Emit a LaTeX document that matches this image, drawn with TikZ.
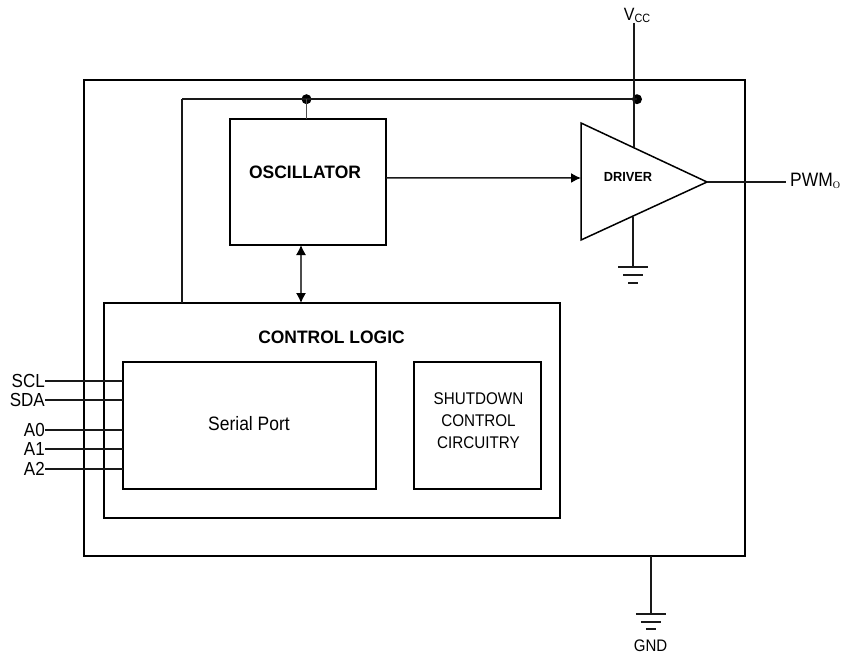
\documentclass[tikz,border=0pt]{standalone}
\usepackage{fontspec}
\setmainfont[FakeStretch=0.9,BoldFeatures={FakeStretch=0.97}]{Liberation Sans}
\usetikzlibrary{arrows.meta,calc}
\tikzset{
  x=1pt,y=-1pt,
  wire/.style={line width=1.5pt,black!90},
  thin wire/.style={line width=1.2pt,black!70},
  blockbox/.style={draw,line width=1.5pt,inner sep=0pt,outer sep=0pt,align=center},
  junction/.style={circle,fill=black,inner sep=0pt,minimum size=10pt},
  arrowed/.style={-{Latex[length=10pt,width=10pt,black]}},
  both arrowed/.style={{Latex[length=10pt,width=10pt,black]}-{Latex[length=10pt,width=10pt,black]}},
  lbl/.style={inner sep=0pt,font=\fontsize{19.4}{20}\selectfont},
  pin/.style={inner sep=0pt,font=\fontsize{18.9}{19}\selectfont,anchor=east},
  bold/.style={inner sep=0pt,font=\fontsize{18}{20}\selectfont\bfseries},
}
\begin{document}
\begin{tikzpicture}
\useasboundingbox (0,0) rectangle (845,655);
% blocks
\node[blockbox,minimum width=661pt,minimum height=476pt] (chip) at (414.5,318) {};
\node[blockbox,minimum width=456pt,minimum height=215pt] (logic) at (332,410.5) {};
\node[blockbox,minimum width=156pt,minimum height=126pt] (osc) at (308,182) {};
\node[blockbox,minimum width=253pt,minimum height=127pt] (serial) at (249.5,425.5) {};
\node[blockbox,minimum width=127pt,minimum height=127pt] (shut) at (477.5,425.5) {};
% driver
\coordinate (triA) at (581,123);
\coordinate (triB) at (581,240);
\coordinate (triC) at (707,182);
\draw[line width=1.5pt,line join=miter] (triA) -- (triC) -- (triB) -- cycle;
% texts
\node[bold] (osclbl) at (305,172) {OSCILLATOR};
\node[inner sep=0pt,font=\fontsize{13.2}{14}\selectfont\bfseries] (drvlbl) at (628,177) {DRIVER};
\node[bold] (logiclbl) at (331.5,337) {CONTROL LOGIC};
\node[lbl] (seriallbl) at (249,424) {Serial Port};
\node[inner sep=0pt,align=center,font=\fontsize{16.9}{22}\selectfont] (shutlbl) at (478.5,421) {SHUTDOWN\\CONTROL\\CIRCUITRY};
% coordinates
\node[junction] (dotA) at (306.5,99.2) {};
\node[junction] (dotB) at (637,99.2) {};
\coordinate (busL) at (182,99.2);
\coordinate (vccTop) at (634.2,23);
\coordinate (vccEnd) at (634.2,147);
% wires
\draw[wire] (busL) -- (dotB.center);
\draw[wire] (busL) -- (busL |- logic.north);
\draw[thin wire] (dotA.center) -- (dotA.center |- osc.north);
\draw[wire] (vccTop) -- (vccEnd);
\draw[wire,arrowed] ($(osc.east)+(0,-4)$) -- ($(triA)!0.47!(triB)$);
\draw[thin wire,both arrowed] (301,245) -- (301,303);
\coordinate (pwmEnd) at (786,182);
\draw[wire] (triC) -- (pwmEnd);
% driver ground
\coordinate (dgTop) at (633,217);
\coordinate (dg1) at (633,267);
\draw[wire] (dgTop) -- (dg1);
\draw[wire] ($(dg1)+(-15,0)$) -- ($(dg1)+(15,0)$);
\draw[wire] ($(dg1)+(-10,8)$) -- ($(dg1)+(10,8)$);
\draw[wire] ($(dg1)+(-5,16)$) -- ($(dg1)+(5,16)$);
% chip ground
\coordinate (cgTop) at (650.8,556);
\coordinate (cg1) at (650.8,614);
\draw[wire] (cgTop) -- (cg1);
\draw[wire] ($(cg1)+(-15,0)$) -- ($(cg1)+(15,0)$);
\draw[wire] ($(cg1)+(-10,8)$) -- ($(cg1)+(10,8)$);
\draw[wire] ($(cg1)+(-5,15)$) -- ($(cg1)+(5,15)$);
% outer labels
\node[inner sep=0pt,font=\fontsize{17.8}{18}\selectfont] (vcc) at (637,15.5) {V\raisebox{-2.5pt}{\fontsize{12}{12}\selectfont CC}};
\node[inner sep=0pt,anchor=west,font=\fontsize{19.4}{20}\selectfont] (pwm) at (790,181) {PWM\raisebox{-2pt}{\fontsize{10}{10}\fontspec{Liberation Serif}\selectfont O}};
\node[inner sep=0pt,font=\fontsize{16.7}{17}\selectfont] (gnd) at (650.5,646) {GND};
% pins
\node[pin] (scl) at (45,381) {SCL};
\node[pin] (sda) at (45,400.2) {SDA};
\node[pin] (a0) at (45,430) {A0};
\node[pin] (a1) at (45,449) {A1};
\node[pin] (a2) at (45,469) {A2};
\foreach \p in {scl,sda,a0,a1,a2}{
  \draw[wire] (\p.east) -- (\p.east -| serial.west);
}
\end{tikzpicture}
\end{document}
